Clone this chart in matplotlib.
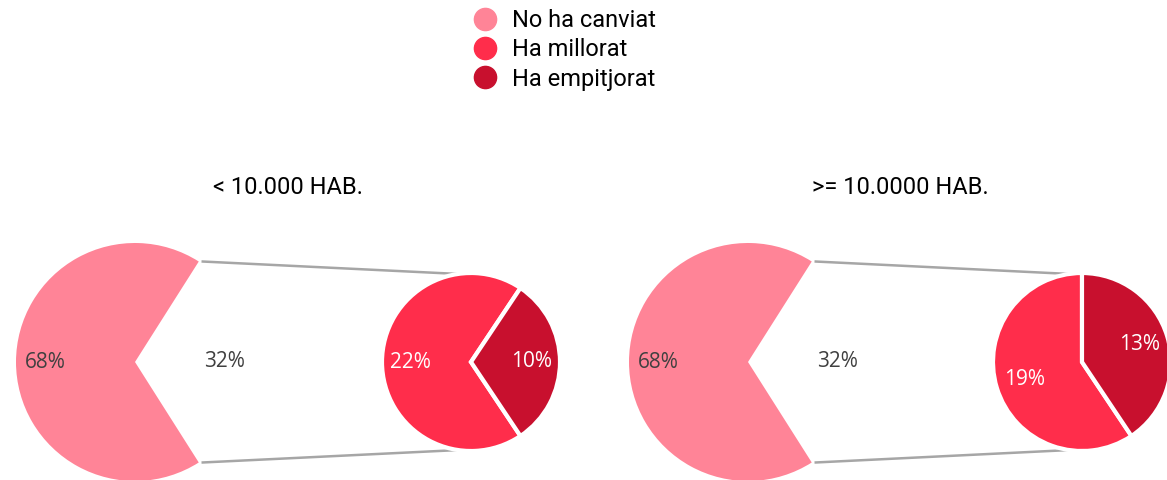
import numpy as np
import matplotlib.pyplot as plt
from matplotlib.lines import Line2D

categories = ['No ha canviat', 'Ha millorat', 'Ha empitjorat']
groups = ['< 10.000 HAB.', '>= 10.0000 HAB.']
no_change = [68, 68]
improved = [22, 19]
worsened = [10, 13]

colors = ['#FF8497', '#FF2D4B', '#C8102E']
label_grey = '#404040'

W, H = 1167, 480
fig = plt.figure(figsize=(W / 100, H / 100), dpi=100)
ax = fig.add_axes([0, 0, 1, 1])

# layout in pixels (y measured from the bottom)
big_cx = [135, 748]
small_cx = [471, 1082]
cy = 118
big_r = 119
small_r = 89
title_x = [288, 900]
small_start = [None, 90]

for i in range(2):
    changed = improved[i] + worsened[i]
    total = no_change[i] + changed
    # big pie, the "changed" share left empty and pointing to the right
    start = changed / total * 180
    ax.pie([no_change[i], changed], colors=[colors[0], 'none'],
           center=(big_cx[i], cy), radius=big_r, startangle=start,
           autopct=lambda p: f'{p:.0f}%', pctdistance=0.75, frame=True,
           textprops=dict(color=label_grey, fontsize=15, family='Open Sans'))

    # small pie splitting the changed share
    if small_start[i] is None:
        s_start = worsened[i] / changed * 180
    else:
        s_start = small_start[i]
    ax.pie([improved[i], worsened[i]], colors=colors[1:],
           center=(small_cx[i], cy), radius=small_r, startangle=s_start,
           autopct=lambda p, c=changed: f'{p * c / 100:.0f}%', pctdistance=0.68,
           wedgeprops=dict(edgecolor='white', linewidth=3), frame=True,
           textprops=dict(color='white', fontsize=15, family='Open Sans'))

    # connector lines
    a = np.deg2rad(start)
    for sgn in (1, -1):
        x0 = big_cx[i] + big_r * np.cos(a) + 4
        y0 = cy + sgn * big_r * np.sin(a)
        ax.plot([x0, small_cx[i] - 14], [y0, cy + sgn * small_r * 0.99],
                color='#A6A6A6', lw=1.8, zorder=0)

    ax.text(title_x[i], 480 - 188, groups[i], ha='center', va='center',
            fontsize=17, family='Roboto', color='black')

ax.set_xlim(0, W)
ax.set_ylim(0, H)
ax.set_aspect('equal')
ax.axis('off')

handles = [Line2D([], [], marker='o', ls='', ms=16, color=c) for c in colors]
fig.legend(handles, categories, loc='upper left', bbox_to_anchor=(473 / W, 1 - 9 / H),
           frameon=False, prop=dict(family='Roboto', size=17),
           handlelength=1.0, handletextpad=0.65, labelspacing=0.27,
           borderpad=0, borderaxespad=0)

fig.savefig('out.png', dpi=100)
